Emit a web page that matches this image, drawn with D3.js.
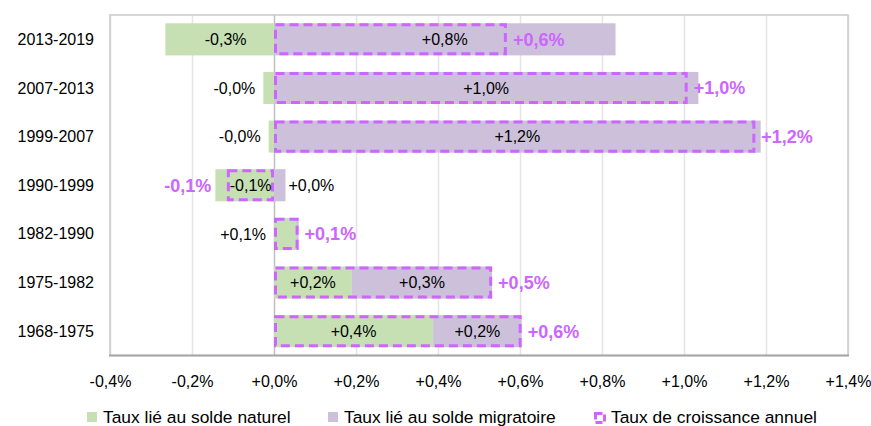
<!DOCTYPE html>
<html>
<head>
<meta charset="utf-8">
<script src="https://cdn.jsdelivr.net/npm/d3@7"></script>
<style>
  body { margin: 0; background: #fff; }
  svg text { font-family: "Liberation Sans", Arial, sans-serif; fill: #000; }
</style>
</head>
<body>
<svg width="871" height="426"></svg>
<script>
var periods = ["2013-2019", "2007-2013", "1999-2007", "1990-1999", "1982-1990", "1975-1982", "1968-1975"];
var natural = [-0.265, -0.026, -0.013, -0.143, 0.054, 0.19, 0.388];
var migratory = [0.833, 1.035, 1.187, 0.028, 0.006, 0.342, 0.216];
var total = [0.568, 1.009, 1.174, -0.115, 0.06, 0.532, 0.604];
var xTicks = [-0.4, -0.2, 0, 0.2, 0.4, 0.6, 0.8, 1.0, 1.2, 1.4];
var legendLabels = ["Taux lié au solde naturel", "Taux lié au solde migratoire", "Taux de croissance annuel"];

var svg = d3.select("svg"),
	width = +svg.attr("width"),
	height = +svg.attr("height");

var plotLeft = 110, plotRight = 848, plotTop = 15, plotBottom = 355.5;

var green = "#c6e0b4", purple = "#ccc0da", dash = "#cc66ff";

var x = d3.scaleLinear().domain([-0.4, 1.4]).range([plotLeft, plotRight]);
var y = d3.scaleBand().domain(periods).range([plotTop, plotBottom]).paddingInner(0.34).paddingOuter(0.17);

function fmt(v) {
	var s = Math.abs(v).toFixed(1).replace(".", ",");
	return (v < 0 ? "-" : "+") + s + "%";
}

// grid
svg.append("g")
	.attr("transform", "translate(0," + plotBottom + ")")
	.call(d3.axisBottom(x).tickValues(xTicks).tickSize(-(plotBottom - plotTop)).tickFormat(""))
	.call(function(g) {
		g.select(".domain").remove();
		g.selectAll(".tick line")
			.attr("stroke", function(d) { return d === 0 ? "#bfbfbf" : "#e4e4e4"; })
			.attr("stroke-width", 1.5);
	});

// frame
svg.append("rect")
	.attr("x", plotLeft).attr("y", plotTop)
	.attr("width", plotRight - plotLeft).attr("height", plotBottom - plotTop)
	.attr("fill", "none").attr("stroke", "#cacaca").attr("stroke-width", 1.5);
svg.append("line")
	.attr("x1", plotLeft - 1).attr("x2", plotRight + 1)
	.attr("y1", plotBottom).attr("y2", plotBottom)
	.attr("stroke", "#a6a6a6").attr("stroke-width", 2);

// tick labels
svg.append("g")
	.attr("transform", "translate(0," + (plotBottom + 20) + ")")
	.call(d3.axisBottom(x).tickValues(xTicks).tickSize(0).tickPadding(0).tickFormat(fmt))
	.call(function(g) {
		g.select(".domain").remove();
		g.selectAll("text").attr("font-size", 16).attr("dy", "0.71em")
			.style("font-family", '"Liberation Sans", Arial, sans-serif');
	});

// category labels
svg.append("g").selectAll("text")
	.data(periods).enter().append("text")
	.attr("x", 94)
	.attr("y", function(d) { return y(d) + y.bandwidth() / 2; })
	.attr("dy", "0.35em")
	.attr("text-anchor", "end")
	.attr("font-size", 16)
	.text(function(d) { return d; });

// stacked segments
var rows = periods.map(function(p, i) {
	var n = natural[i], m = migratory[i];
	var pos = 0, neg = 0, segs = [];
	[["nat", n, green], ["mig", m, purple]].forEach(function(s) {
		var v = s[1], a, b;
		if (v >= 0) { a = pos; b = pos + v; pos = b; }
		else { a = neg + v; b = neg; neg = a; }
		segs.push({ key: s[0], period: p, value: v, x0: a, x1: b, color: s[2] });
	});
	return { period: p, segs: segs, total: total[i], neg: neg, pos: pos };
});

var segData = [];
rows.forEach(function(r) { segData = segData.concat(r.segs); });

svg.append("g").selectAll("rect")
	.data(segData).enter().append("rect")
	.attr("x", function(d) { return x(d.x0); })
	.attr("width", function(d) { return x(d.x1) - x(d.x0); })
	.attr("y", function(d) { return y(d.period); })
	.attr("height", y.bandwidth())
	.attr("fill", function(d) { return d.color; });

// total dashed boxes
svg.append("g").selectAll("rect")
	.data(rows).enter().append("rect")
	.attr("x", function(d) { return x(Math.min(0, d.total)) + 1.5; })
	.attr("width", function(d) { return Math.abs(x(d.total) - x(0)) - 3; })
	.attr("y", function(d) { return y(d.period) + 1.5; })
	.attr("height", y.bandwidth() - 3)
	.attr("fill", "none")
	.attr("stroke", dash)
	.attr("stroke-width", 3)
	.attr("stroke-dasharray", "9,5");

// segment labels
svg.append("g").selectAll("text")
	.data(segData.filter(function(d) { return Math.abs(d.value) >= 0.01; }))
	.enter().append("text")
	.attr("font-size", 16)
	.attr("y", function(d) { return y(d.period) + y.bandwidth() / 2; })
	.attr("dy", "0.36em")
	.attr("text-anchor", function(d) {
		if (Math.abs(d.value) >= 0.1) return "middle";
		return d.key === "nat" ? "end" : "start";
	})
	.attr("x", function(d) {
		if (Math.abs(d.value) >= 0.1) return (x(d.x0) + x(d.x1)) / 2 + (d.value < 0 && d.x1 === 0 ? 6 : 0);
		return d.key === "nat" ? x(Math.min(0, d.x0)) - 8 : x(d.x1) + 3;
	})
	.text(function(d) { return fmt(d.value); });

// total labels
svg.append("g").selectAll("text")
	.data(rows).enter().append("text")
	.attr("font-size", 18)
	.attr("font-weight", "bold")
	.style("fill", dash)
	.attr("y", function(d) { return y(d.period) + y.bandwidth() / 2; })
	.attr("dy", "0.36em")
	.attr("text-anchor", function(d) { return d.total < 0 ? "end" : "start"; })
	.attr("x", function(d) { return d.total < 0 ? x(d.neg) - 4 : x(d.total) + 6; })
	.text(function(d) { return fmt(d.total); });

// legend
var legendX = [87, 328, 594];
var legend = svg.append("g").selectAll("g")
	.data(legendLabels).enter().append("g")
	.attr("transform", function(d, i) { return "translate(" + legendX[i] + ",412)"; });

legend.append("rect")
	.attr("x", function(d, i) { return i === 2 ? 1.5 : 0; })
	.attr("y", function(d, i) { return i === 2 ? 1.5 : 0; })
	.attr("width", function(d, i) { return i === 2 ? 9 : 10; })
	.attr("height", function(d, i) { return i === 2 ? 9 : 10; })
	.attr("fill", function(d, i) { return i === 0 ? green : i === 1 ? purple : "none"; })
	.attr("stroke", function(d, i) { return i === 2 ? dash : "none"; })
	.attr("stroke-width", 3)
	.attr("stroke-dasharray", function(d, i) { return i === 2 ? "7,3" : null; });

legend.append("text")
	.attr("x", function(d, i) { return i === 2 ? 17 : 16; })
	.attr("y", 11)
	.attr("font-size", 17.4)
	.text(function(d) { return d; });
</script>
</body>
</html>
